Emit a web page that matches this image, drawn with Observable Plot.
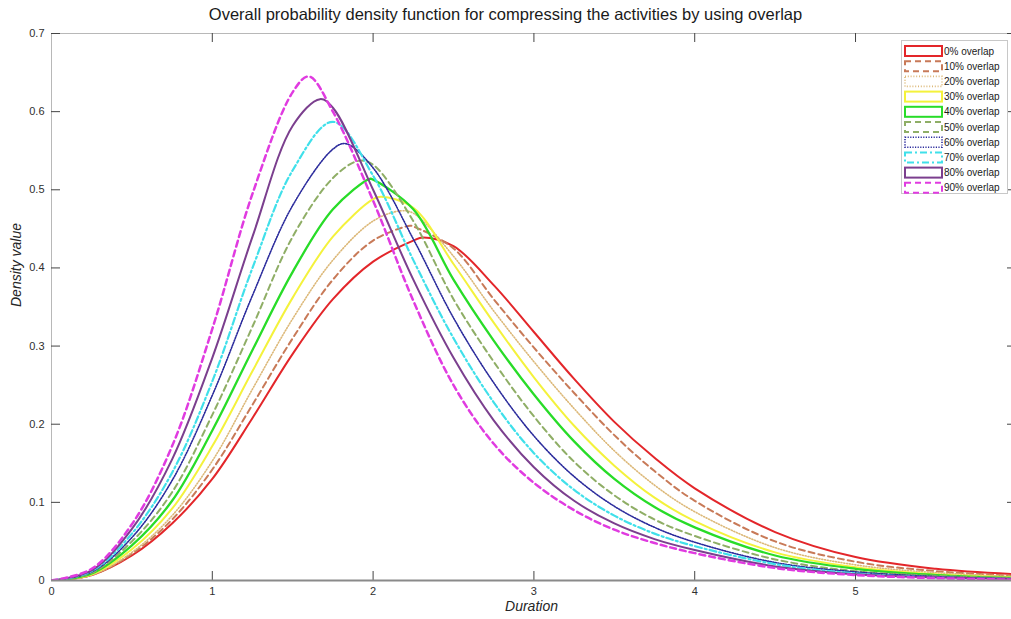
<!DOCTYPE html>
<html><head><meta charset="utf-8">
<script src="https://cdn.jsdelivr.net/npm/d3@7"></script>
<script src="https://cdn.jsdelivr.net/npm/@observablehq/plot@0.6"></script>
<style>
body{margin:0;background:#fff;font-family:"Liberation Sans",Arial,Helvetica,sans-serif;}
#wrap{position:relative;width:1011px;height:619px;overflow:hidden;}
#title{position:absolute;left:0;top:5px;width:1011px;text-align:center;font-size:16.5px;color:#1a1a1a;}
#chart{position:absolute;left:0;top:26px;}
#legend{position:absolute;left:901px;top:40px;}
#chart svg{font-family:"Liberation Sans",Arial,Helvetica,sans-serif;}
</style></head><body>
<div id="wrap">
  <div id="title"></div>
  <div id="chart"></div>
  <svg id="legend" width="108" height="155"></svg>
</div>
<script>
const titleText = "Overall probability density function for compressing the activities by using overlap";
const xLabel = "Duration";
const yLabel = "Density value";
const xTicks = [0, 1, 2, 3, 4, 5];
const yTicks = [0, 0.1, 0.2, 0.3, 0.4, 0.5, 0.6, 0.7];
const seriesLabels = ["0% overlap","10% overlap","20% overlap","30% overlap","40% overlap","50% overlap","60% overlap","70% overlap","80% overlap","90% overlap"];
const durations = [0,0.25,0.5,0.75,1,1.25,1.5,1.75,2,2.25,2.5,2.75,3,3.25,3.5,3.75,4,4.5,5,5.5,6];
const density0  = [0,0.007,0.032,0.073,0.13,0.208,0.29,0.36,0.408,0.435,0.428,0.378,0.318,0.258,0.203,0.157,0.118,0.062,0.030,0.015,0.008];
const density10 = [0,0.007,0.034,0.078,0.142,0.225,0.31,0.385,0.435,0.453,0.425,0.36,0.298,0.24,0.186,0.14,0.102,0.05,0.024,0.012,0.006];
const density20 = [0,0.007,0.036,0.083,0.153,0.245,0.335,0.41,0.46,0.47,0.415,0.345,0.28,0.22,0.166,0.122,0.088,0.042,0.020,0.010,0.005];
const density30 = [0,0.008,0.04,0.092,0.172,0.268,0.362,0.44,0.488,0.477,0.405,0.33,0.26,0.198,0.147,0.106,0.076,0.036,0.017,0.008,0.004];
const density40 = [0,0.009,0.045,0.102,0.192,0.295,0.395,0.475,0.513,0.475,0.385,0.307,0.238,0.178,0.13,0.094,0.068,0.032,0.015,0.007,0.003];
const density50 = [0,0.010,0.05,0.113,0.212,0.325,0.44,0.515,0.532,0.46,0.36,0.28,0.21,0.152,0.109,0.078,0.057,0.027,0.012,0.006,0.003];
const density60 = [0,0.011,0.055,0.128,0.237,0.365,0.48,0.552,0.528,0.437,0.336,0.253,0.185,0.133,0.095,0.068,0.049,0.023,0.011,0.005,0.002];
const density70 = [0,0.012,0.06,0.138,0.255,0.40,0.525,0.587,0.518,0.41,0.31,0.228,0.163,0.116,0.083,0.06,0.044,0.021,0.009,0.004,0.002];
const density80 = [0,0.013,0.066,0.155,0.285,0.44,0.582,0.605,0.50,0.385,0.285,0.205,0.145,0.102,0.073,0.053,0.039,0.018,0.008,0.004,0.002];
const density90 = [0,0.015,0.072,0.172,0.322,0.495,0.625,0.60,0.486,0.358,0.25,0.175,0.125,0.09,0.065,0.048,0.035,0.016,0.007,0.003,0.001];
const peakX = [2.31,2.23,2.17,2.05,1.98,1.91,1.83,1.75,1.67,1.60];
const peakY = [0.439,0.454,0.473,0.491,0.514,0.537,0.559,0.587,0.616,0.645];

const seriesValues = [density0,density10,density20,density30,density40,density50,density60,density70,density80,density90];
const colors = ["#e3262a","#c87a58","#dcb878","#f4f23c","#28dc28","#8fae66","#2b2b9c","#40e0ea","#7b3f8e","#e03be0"];
const dashes = [null,"6,4","1,1.8",null,null,"6,4","1.2,1.4","7,3,2,3",null,"6,4"];
const widths = [2,2,1.6,2,2.3,2,1.6,2.2,2,2.5];

document.getElementById("title").textContent = titleText;

const W = 1011, H = 593, mL = 51, mR = 0, mT = 7, mB = 39;
const innerW = W - mL - mR, innerH = H - mT - mB;

function rowsFor(i) {
  const rows = durations.map((d, j) => ({x: d, y: seriesValues[i][j]}))
    .filter(r => Math.abs(r.x - peakX[i]) > 0.02);
  rows.push({x: peakX[i], y: peakY[i]});
  rows.sort((a, b) => a.x - b.x);
  return rows;
}

const lineMarks = seriesLabels.map((s, i) => Plot.line(rowsFor(i), {
  x: "x", y: "y", stroke: colors[i], strokeWidth: widths[i],
  strokeDasharray: dashes[i] ?? undefined, curve: "catmull-rom", clip: true
}));

const chart = Plot.plot({
  width: W, height: H,
  marginLeft: mL, marginRight: mR, marginTop: mT, marginBottom: mB,
  x: {domain: [0, 5.97]},
  y: {domain: [0, 0.7]},
  style: {fontSize: "11px", color: "#303030", background: "white"},
  marks: [
    Plot.ruleY([0.7], {stroke: "#b8b8b8"}),
    Plot.ruleX([0], {stroke: "#b8b8b8"}),
    Plot.tickX(xTicks.slice(1), {x: d => d, stroke: "#444", insetTop: innerH - 9}),
    Plot.tickX(xTicks.slice(1), {x: d => d, stroke: "#444", insetBottom: innerH - 9}),
    Plot.tickY(yTicks.slice(1), {y: d => d, stroke: "#444", insetRight: innerW - 9}),
    Plot.tickY(yTicks.slice(1), {y: d => d, stroke: "#444", insetLeft: innerW - 4}),
    ...lineMarks,
    Plot.ruleY([0], {stroke: "#8a8a8a", strokeWidth: 2}),
    Plot.axisX({ticks: xTicks, tickSize: 0, tickPadding: 7, label: null, fontSize: 11, tickFormat: d3.format("d")}),
    Plot.axisY({ticks: yTicks, tickSize: 0, tickPadding: 7, label: null, fontSize: 11, tickFormat: d => d === 0 ? "0" : d3.format(".1f")(d)}),
    Plot.text([xLabel], {frameAnchor: "bottom", dy: 30, fontStyle: "italic", fontSize: 14, fill: "#262626"}),
    Plot.text([yLabel], {frameAnchor: "left", dx: -35, rotate: -90, fontStyle: "italic", fontSize: 14, fill: "#262626"})
  ]
});
document.getElementById("chart").appendChild(chart);

// Legend
const lg = d3.select("#legend");
lg.append("rect").attr("x", 0.5).attr("y", 0.5).attr("width", 106).attr("height", 153)
  .attr("fill", "white").attr("stroke", "#c8c8c8");
seriesLabels.forEach((s, i) => {
  const cy = 11 + i * 15.2;
  lg.append("rect").attr("x", 4).attr("y", cy - 5).attr("width", 37).attr("height", 10)
    .attr("fill", "none").attr("stroke", colors[i]).attr("stroke-width", Math.min(widths[i], 2))
    .attr("stroke-dasharray", dashes[i]);
  lg.append("text").attr("x", 43).attr("y", cy + 3.5).attr("font-size", 10)
    .attr("font-family", "Liberation Sans, Arial, sans-serif").attr("fill", "#1a1a1a").text(s);
});
</script>
</body></html>
